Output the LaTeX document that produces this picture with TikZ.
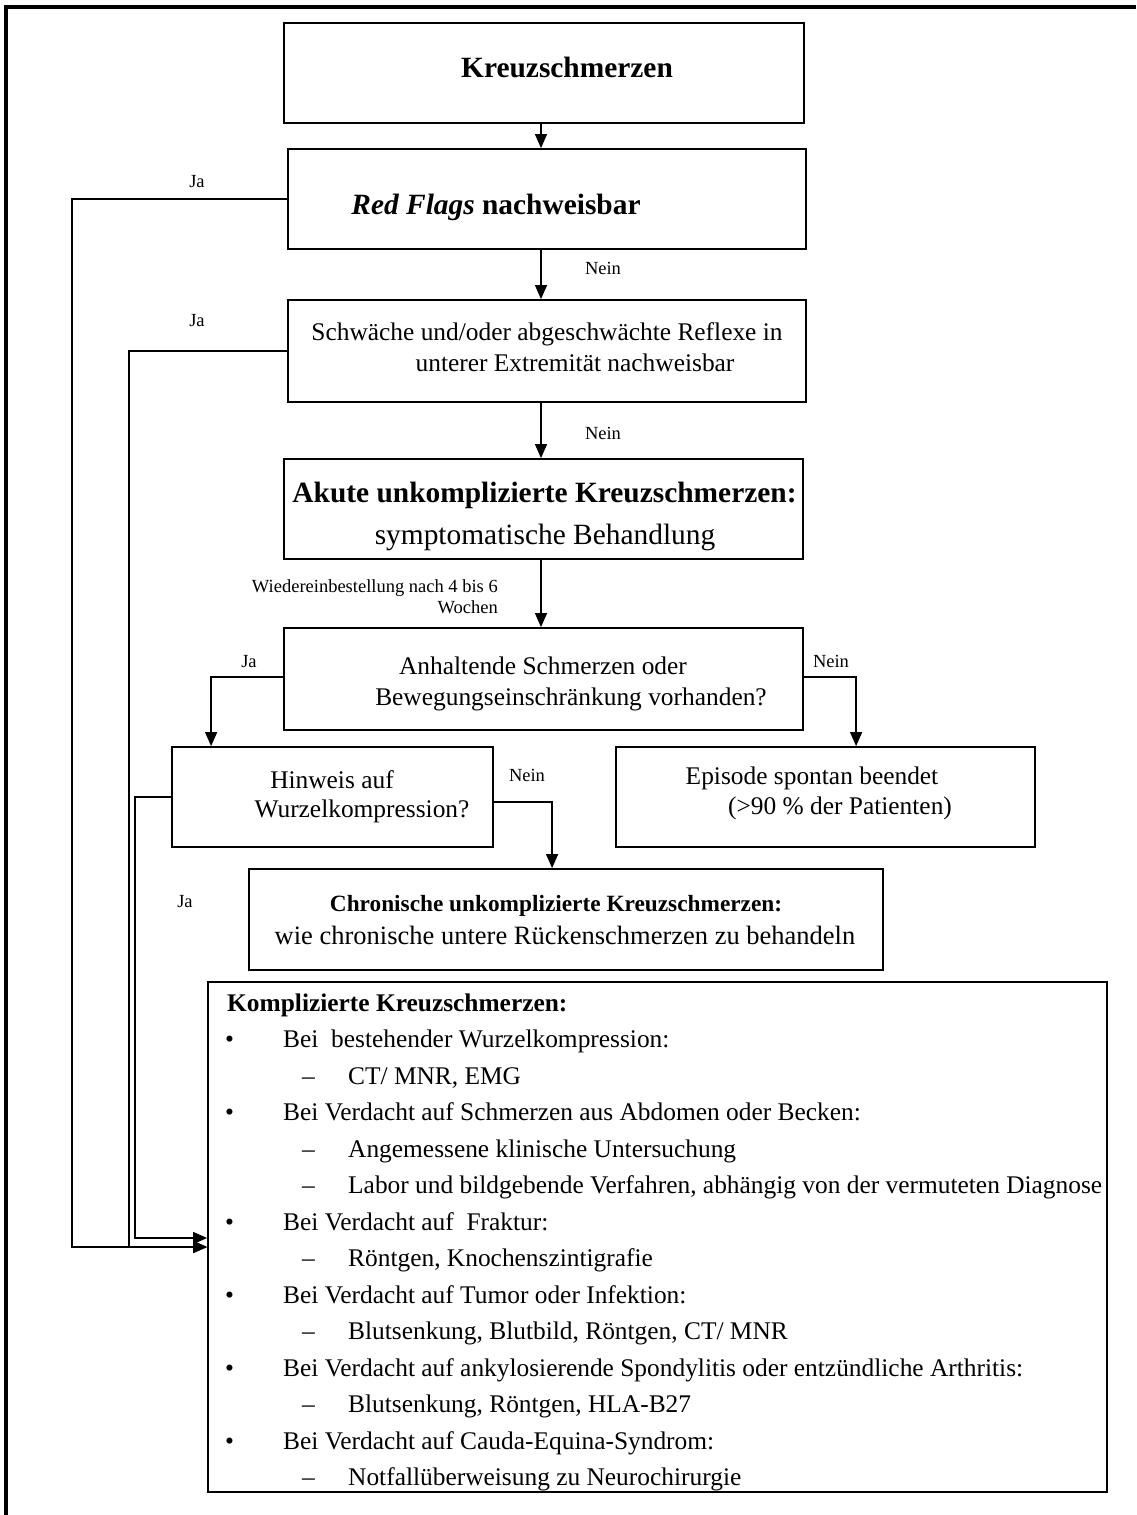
\documentclass[tikz,border=0pt]{standalone}
\usepackage{fontspec}
\setmainfont{Liberation Serif}
\usetikzlibrary{arrows.meta,calc}
\newcommand{\setfs}[1]{\fontsize{#1}{#1}\selectfont}
\begin{document}
\begin{tikzpicture}[x=1pt,y=-1pt,
  box/.style={draw, line width=1.8pt, inner sep=0pt},
  conn/.style={line width=1.3pt},
  arr/.style={line width=1.3pt, -{Triangle[length=14pt,width=12pt]}},
  lbl/.style={inner sep=0pt, anchor=base, font=\setfs{18.5}},
  txt/.style={inner sep=0pt, anchor=base, font=\setfs{25.4}},
  big/.style={inner sep=0pt, anchor=base, font=\setfs{29.4}},
  bigb/.style={inner sep=0pt, anchor=base, font=\setfs{29.4}\bfseries},
  li/.style={inner sep=0pt, anchor=base west, font=\setfs{25.4}},
]
\useasboundingbox (0,0) rectangle (1136,1515);
% outer frame
\draw[line width=3.2pt] (6,1515) -- (6,7) -- (1136,7);

% boxes
\node[box, minimum width=520pt, minimum height=100pt] (b1) at (544,73) {};
\node[box, minimum width=518pt, minimum height=100pt] (b2) at (547,199) {};
\node[box, minimum width=518pt, minimum height=102pt] (b3) at (547,351) {};
\node[box, minimum width=519pt, minimum height=100pt] (b4) at (543.5,509) {};
\node[box, minimum width=519pt, minimum height=102pt] (b5) at (543.5,679) {};
\node[box, minimum width=321pt, minimum height=100pt] (b6) at (332.5,797) {};
\node[box, minimum width=419pt, minimum height=100pt] (b7) at (825.5,797) {};
\node[box, minimum width=634pt, minimum height=101pt] (b8) at (566,919.5) {};
\node[box, minimum width=899pt, minimum height=510pt] (b9) at (657.5,1237) {};

% box texts
\node[bigb] (t1) at (567,77) {Kreuzschmerzen};
\node[bigb] (t2) at (496,214) {\textit{Red Flags} nachweisbar};
\node[txt] (t3a) at (547,340) {Schwäche und/oder abgeschwächte Reflexe in};
\node[txt] (t3b) at (575,371) {unterer Extremität nachweisbar};
\node[bigb] (t4a) at (544.5,502) {Akute unkomplizierte Kreuzschmerzen:};
\node[big] (t4b) at (545,544) {symptomatische Behandlung};
\node[txt] (t5a) at (543,674) {Anhaltende Schmerzen oder};
\node[txt] (t5b) at (571,705) {Bewegungseinschränkung vorhanden?};
\node[txt] (t6a) at (332,788) {Hinweis auf};
\node[txt] (t6b) at (362,817) {Wurzelkompression?};
\node[txt] (t7a) at (812,784) {Episode spontan beendet};
\node[txt] (t7b) at (840,814) {(>90 \% der Patienten)};
\node[inner sep=0pt, anchor=base, font=\setfs{23.3}\bfseries] (t8a) at (556,911) {Chronische unkomplizierte Kreuzschmerzen:};
\node[inner sep=0pt, anchor=base, font=\setfs{26.5}] (t8b) at (565,944) {wie chronische untere Rückenschmerzen zu behandeln};

% box 9 contents
\node[li, font=\setfs{25.4}\bfseries] (k0) at (227,1011) {Komplizierte Kreuzschmerzen:};
\node[li] (k1) at (225,1047.5) {\makebox[58pt][l]{\textbullet}Bei\ \ bestehender Wurzelkompression:};
\node[li] (k2) at (302,1084) {\makebox[46pt][l]{–}CT/ MNR, EMG};
\node[li] (k3) at (225,1120.5) {\makebox[58pt][l]{\textbullet}Bei Verdacht auf Schmerzen aus Abdomen oder Becken:};
\node[li] (k4) at (302,1157) {\makebox[46pt][l]{–}Angemessene klinische Untersuchung};
\node[li] (k5) at (302,1193.5) {\makebox[46pt][l]{–}Labor und bildgebende Verfahren, abhängig von der vermuteten Diagnose};
\node[li] (k6) at (225,1230) {\makebox[58pt][l]{\textbullet}Bei Verdacht auf\ \ Fraktur:};
\node[li] (k7) at (302,1266.5) {\makebox[46pt][l]{–}Röntgen, Knochenszintigrafie};
\node[li] (k8) at (225,1303) {\makebox[58pt][l]{\textbullet}Bei Verdacht auf Tumor oder Infektion:};
\node[li] (k9) at (302,1339.5) {\makebox[46pt][l]{–}Blutsenkung, Blutbild, Röntgen, CT/ MNR};
\node[li] (k10) at (225,1376) {\makebox[58pt][l]{\textbullet}Bei Verdacht auf ankylosierende Spondylitis oder entzündliche Arthritis:};
\node[li] (k11) at (302,1412.5) {\makebox[46pt][l]{–}Blutsenkung, Röntgen, HLA-B27};
\node[li] (k12) at (225,1449) {\makebox[58pt][l]{\textbullet}Bei Verdacht auf Cauda-Equina-Syndrom:};
\node[li] (k13) at (302,1485.5) {\makebox[46pt][l]{–}Notfallüberweisung zu Neurochirurgie};

% helper coordinates
\coordinate (xa) at (541,0);
\coordinate (yA) at (0,1247);
\coordinate (yB) at (0,1238);

% main vertical arrows
\draw[arr] (b1.south -| xa) -- (b2.north -| xa);
\draw[arr] (b2.south -| xa) -- (b3.north -| xa);
\draw[arr] (b3.south -| xa) -- (b4.north -| xa);
\draw[arr] (b4.south -| xa) -- (b5.north -| xa);

% Ja branches to box 9
\draw[arr] (b2.west) -- (72,199) -- (72,1247) -- (b9.west |- yA);
\draw[arr] (b3.west) -- (129,351) -- (129,1247) -- (b9.west |- yA);
\draw[arr] (b6.west) -- (135,797) -- (135,1238) -- (b9.west |- yB);

% branches from box 5 and 6
\draw[arr] ($(b5.west)+(0,-2)$) -| ($(b6.north west)+(40,0)$);
\draw[arr] ($(b5.east)+(0,-2)$) -| ($(b7.north west)+(241,0)$);
\draw[arr] ($(b6.east)+(0,5)$) -| ($(b8.north west)+(304,0)$);

% labels
\node[lbl] (ja1) at (197,187.5) {Ja};
\node[lbl] (nein1) at (603,274.5) {Nein};
\node[lbl] (ja2) at (197,326.5) {Ja};
\node[lbl] (nein2) at (603,439.5) {Nein};
\node[lbl, anchor=base east] (w1) at (498,592.5) {Wiedereinbestellung nach 4 bis 6};
\node[lbl, anchor=base east] (w2) at (498,613.5) {Wochen};
\node[lbl] (ja3) at (249,667.5) {Ja};
\node[lbl] (nein3) at (831,667.5) {Nein};
\node[lbl] (nein4) at (527,781.5) {Nein};
\node[lbl] (ja4) at (185,907.5) {Ja};
\end{tikzpicture}
\end{document}
